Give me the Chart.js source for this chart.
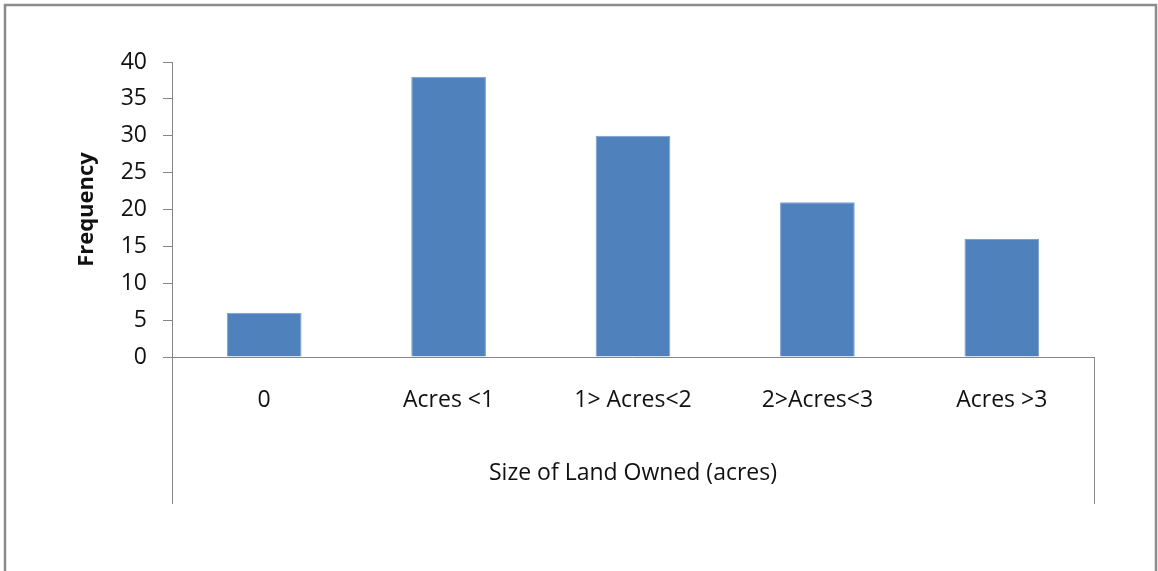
<!DOCTYPE html>
<html>
<head>
<meta charset="utf-8">
<script src="https://cdn.jsdelivr.net/npm/chart.js@4"></script>
<style>
    html, body { margin: 0; padding: 0; background: #fff; }
    #wrap { width: 1158px; height: 571px; position: relative; }
</style>
</head>
<body>
<div id="wrap"><canvas id="landChart" width="1158" height="571"></canvas></div>
<script>
// Chart data
const categories = ['0', 'Acres <1', '1> Acres<2', '2>Acres<3', 'Acres >3'];
const frequency = [6, 38, 30, 21, 16];
const yTicks = [0, 5, 10, 15, 20, 25, 30, 35, 40];

const FONT = "'Open Sans', sans-serif";
const AXIS_GREY = '#868686';

// Outer frame and the box lines under the category axis (Excel style)
const framePlugin = {
    id: 'frame',
    afterDraw(chart) {
        const ctx = chart.ctx;
        const area = chart.chartArea;
        ctx.save();
        ctx.strokeStyle = '#8c8c8c';
        ctx.lineWidth = 2.5;
        ctx.strokeRect(5, 5, 1151, 600);

        ctx.strokeStyle = AXIS_GREY;
        ctx.lineWidth = 1;
        const boxBottom = 504;
        ctx.beginPath();
        ctx.moveTo(Math.round(area.left) + 0.5, area.bottom);
        ctx.lineTo(Math.round(area.left) + 0.5, boxBottom);
        ctx.moveTo(Math.round(area.right) + 0.5, area.bottom);
        ctx.lineTo(Math.round(area.right) + 0.5, boxBottom);
        ctx.stroke();
        ctx.restore();
    }
};

const ctx = document.getElementById('landChart').getContext('2d');
new Chart(ctx, {
    type: 'bar',
    data: {
        labels: categories,
        datasets: [{
            label: 'Frequency',
            data: frequency,
            backgroundColor: '#4f81bd',
            borderColor: '#7a9fd0',
            borderWidth: 1,
            categoryPercentage: 1.0,
            barPercentage: 0.405
        }]
    },
    options: {
        responsive: false,
        animation: false,
        devicePixelRatio: 1,
        layout: { padding: { left: 0, right: 64, top: 62, bottom: 0 } },
        plugins: {
            legend: { display: false },
            tooltip: { enabled: false }
        },
        scales: {
            x: {
                grid: { display: false, drawTicks: false },
                border: { display: true, color: AXIS_GREY, width: 1 },
                ticks: {
                    color: '#111',
                    font: { family: FONT, size: 23 },
                    padding: 30,
                    maxRotation: 0
                },
                title: {
                    display: true,
                    text: 'Size of Land Owned (acres)',
                    color: '#111',
                    font: { family: FONT, size: 23 },
                    padding: { top: 0, bottom: 84 }
                },
                afterFit(scale) { scale.height = 214; }
            },
            y: {
                min: 0,
                max: 40,
                afterBuildTicks(scale) {
                    scale.ticks = yTicks.map(v => ({ value: v }));
                },
                grid: {
                    display: true,
                    drawOnChartArea: false,
                    drawTicks: true,
                    tickLength: 9,
                    color: AXIS_GREY
                },
                border: { display: true, color: AXIS_GREY, width: 1 },
                ticks: {
                    color: '#111',
                    font: { family: FONT, size: 23 },
                    padding: 16
                },
                title: {
                    display: true,
                    text: 'Frequency',
                    color: '#111',
                    font: { family: FONT, size: 22, weight: 'bold' },
                    padding: { top: 74, bottom: 0 }
                },
                afterFit(scale) { scale.width = 172; }
            }
        }
    },
    plugins: [framePlugin]
});
</script>
</body>
</html>
